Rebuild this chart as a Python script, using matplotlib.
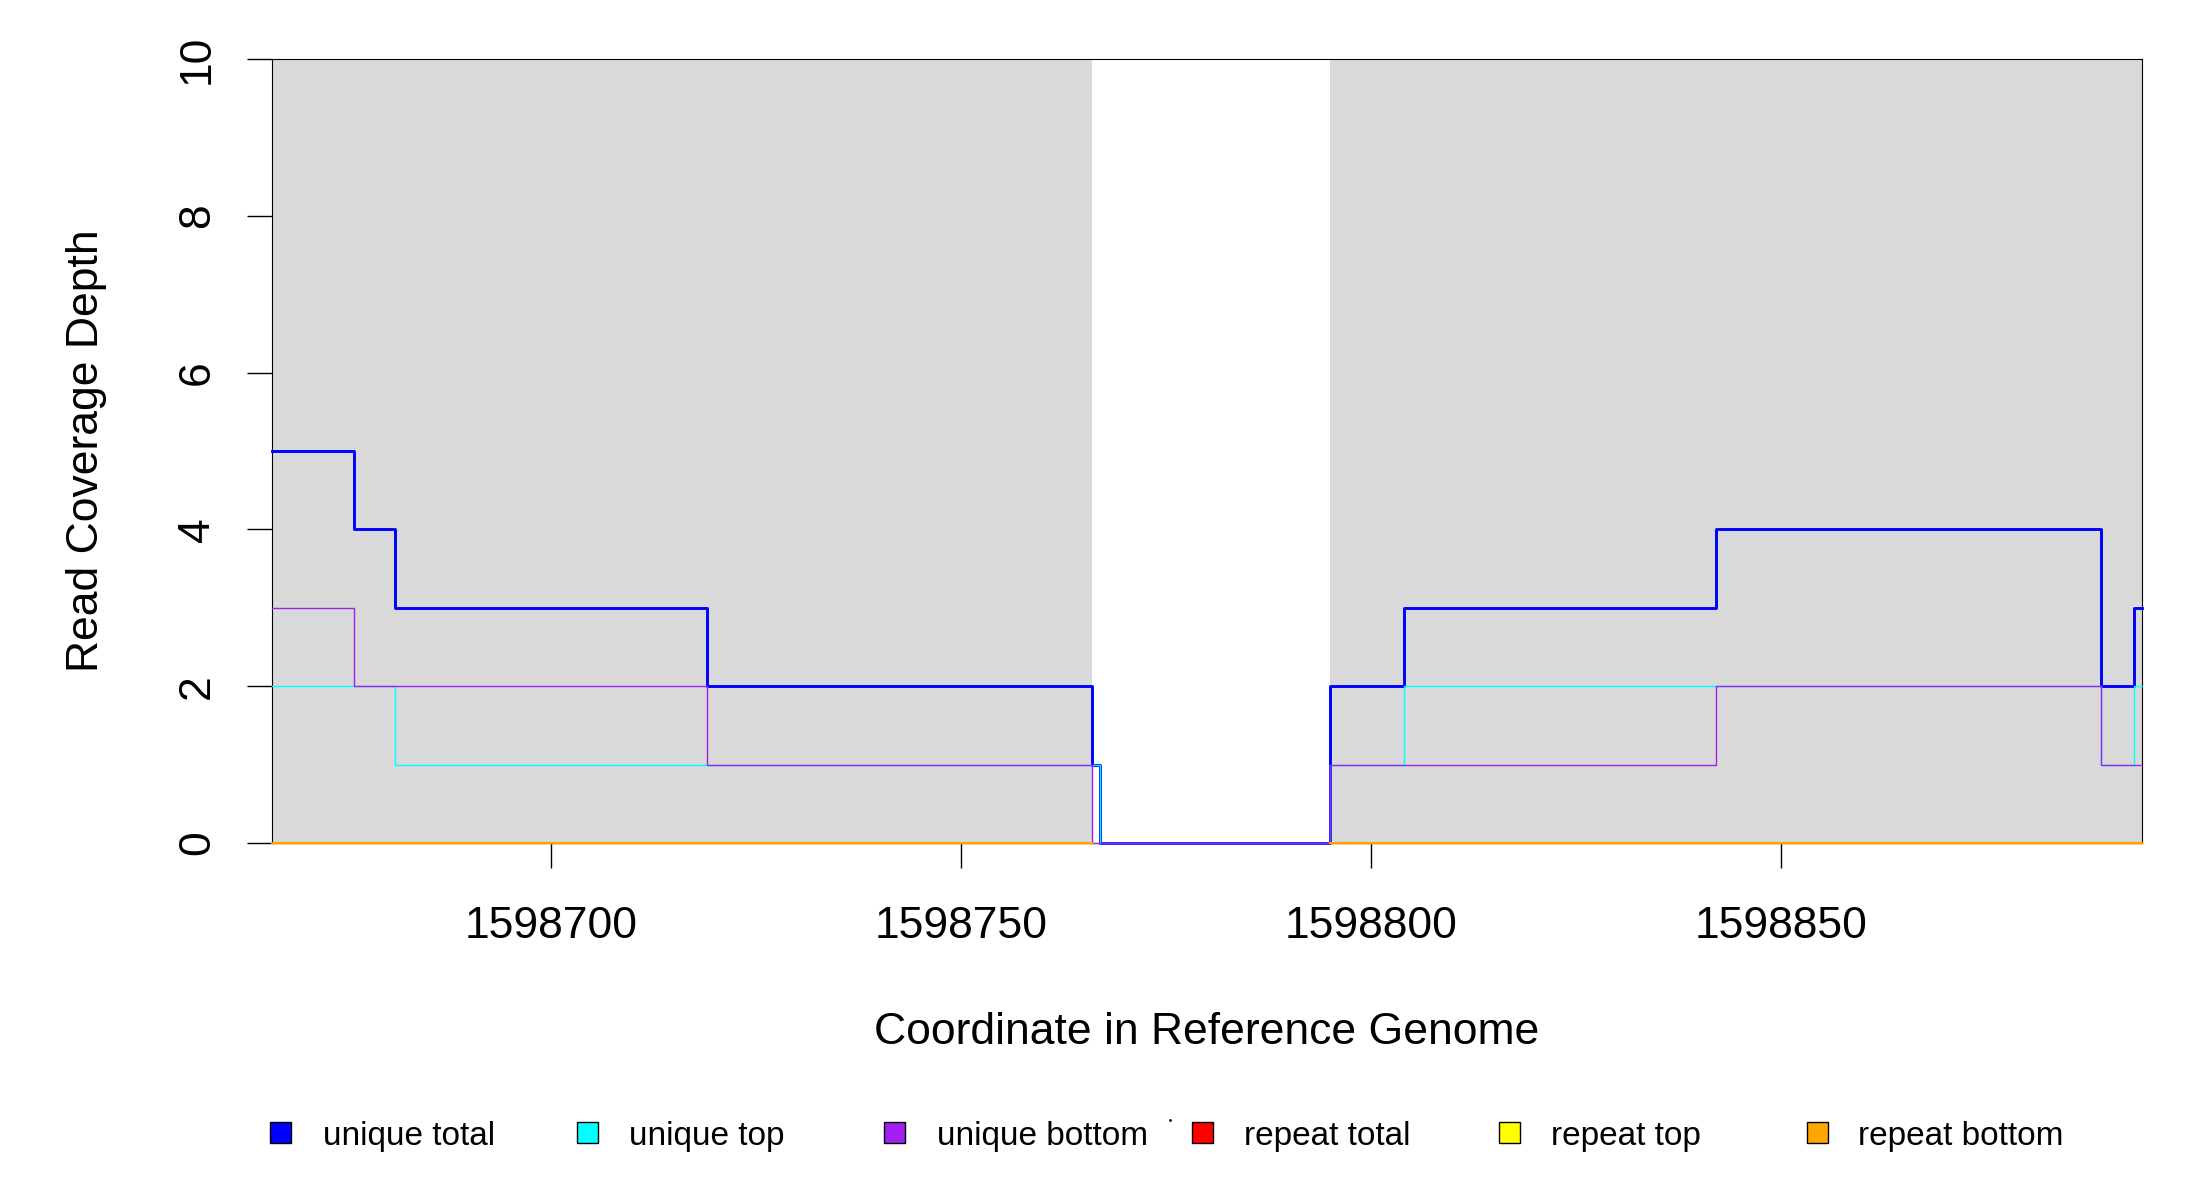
import numpy as np
import matplotlib
matplotlib.use("Agg")
import matplotlib.pyplot as plt
from matplotlib.patches import Rectangle
from matplotlib.lines import Line2D

plt.rcParams['font.family'] = ['Liberation Sans', 'DejaVu Sans']

# ---- data ----
positions = [1598666, 1598676, 1598681, 1598719, 1598766, 1598767,
             1598795, 1598804, 1598842, 1598889, 1598893, 1598894]
unique_total = [5, 4, 3, 2, 1, 0, 2, 3, 4, 2, 3, 3]
unique_top = [2, 2, 1, 1, 1, 0, 1, 2, 2, 1, 2, 2]
unique_bottom = [3, 2, 2, 1, 0, 0, 1, 1, 2, 1, 1, 1]
nan = np.nan
repeat_total = [0, 0, 0, 0, nan, nan, 0, 0, 0, 0, 0, 0]
repeat_top = [0, 0, 0, 0, nan, nan, 0, 0, 0, 0, 0, 0]
repeat_bottom = [0, 0, 0, 0, nan, nan, 0, 0, 0, 0, 0, 0]

region_starts = [1598666, 1598795]
region_ends = [1598766, 1598894]

x_ticks = [1598700, 1598750, 1598800, 1598850]
y_ticks = [0, 2, 4, 6, 8, 10]

series_labels = ["unique total", "unique top", "unique bottom",
                 "repeat total", "repeat top", "repeat bottom"]
series_colors = ["#0000FF", "#00FFFF", "#A020F0", "#FF0000", "#FFFF00", "#FFA500"]
series_values = [unique_total, unique_top, unique_bottom,
                 repeat_total, repeat_top, repeat_bottom]
series_lw = [2.1, 1.0, 1.0, 1.0, 1.0, 1.5]

# ---- figure ----
W, H = 2200, 1200
fig = plt.figure(figsize=(22, 12), dpi=100)
ax = fig.add_axes([272 / W, 1 - 843 / H, 1870 / W, 784 / H])

for s, e in zip(region_starts, region_ends):
    ax.axvspan(s, e, color="#D9D9D9", lw=0, zorder=0)

for vals, col, lw in zip(series_values, series_colors, series_lw):
    ax.plot(positions, vals, drawstyle="steps-post", color=col, lw=lw,
            zorder=3, clip_on=False)

ax.set_xlim(positions[0], positions[-1])
ax.set_ylim(0, 10)
ax.set_xticks(x_ticks)
ax.set_xticklabels([str(t) for t in x_ticks])
ax.set_yticks(y_ticks)
ax.set_yticklabels([str(t) for t in y_ticks], rotation=90, va="center")

for sp in ax.spines.values():
    sp.set_linewidth(0.8)
    sp.set_color("black")

ax.tick_params(axis="both", direction="out", length=18, width=1.0,
               labelsize=32, top=False, right=False)
ax.tick_params(axis="x", pad=27)
ax.tick_params(axis="y", pad=21)

ax.set_xlabel("Coordinate in Reference Genome", fontsize=32)
ax.xaxis.set_label_coords(((622 + 1097) / 2 * 1.404 - 272) / 1870, (843 - 1032) / 784)
ax.xaxis.label.set_va("center")
ax.set_ylabel("Read Coverage Depth", fontsize=32)
ax.yaxis.set_label_coords((87 - 272) / 1870, 0.5)
ax.yaxis.label.set_va("center")

# ---- legend (manual, bottom row) ----
sq_cx = [280, 587, 894, 1202, 1509, 1817]
txt_x = [323, 629, 937, 1244, 1551, 1858]
leg_y = 1133
sq = 21
for cx, tx, lab, col in zip(sq_cx, txt_x, series_labels, series_colors):
    fig.add_artist(Rectangle(((cx - sq / 2) / W, 1 - (leg_y - 1 + sq / 2) / H),
                             sq / W, sq / H, facecolor=col, edgecolor="black",
                             lw=1.0, transform=fig.transFigure))
    fig.text(tx / W, 1 - (leg_y + 3) / H, lab, fontsize=24, va="center", ha="left")

fig.add_artist(Line2D([1170 / W], [1 - 1120 / H], marker="o", ms=1.0,
                      color="black", transform=fig.transFigure))

fig.savefig("out.png", dpi=100)
